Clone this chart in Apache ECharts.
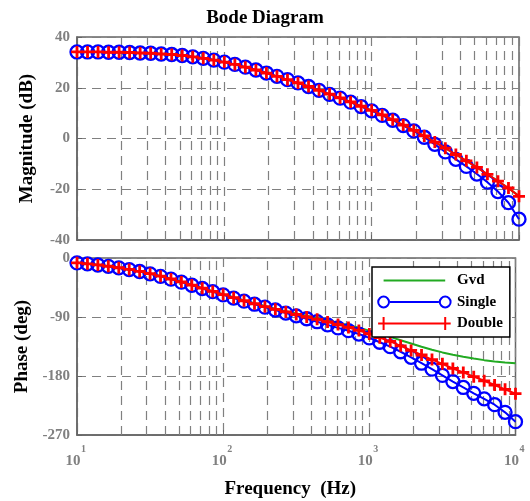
<!DOCTYPE html>
<html>
<head>
<meta charset="utf-8">
<script src="https://cdn.jsdelivr.net/npm/echarts@6/dist/echarts.min.js"></script>
<style>html,body{margin:0;padding:0;background:#fff;}#c{width:530px;height:501px;}</style>
</head>
<body>
<div id="c"></div>
<script>
// Frequencies (Hz) of the plotted points
const freqHz = [10, 11.79, 13.89, 16.38, 19.31, 22.76, 26.83, 31.62, 37.28, 43.94, 51.79, 61.05, 71.97, 84.83,
  100, 117.9, 138.9, 163.8, 193.1, 227.6, 268.3, 316.2, 372.8, 439.4, 517.9, 610.5, 719.7, 848.3,
  1000, 1179, 1389, 1638, 1931, 2276, 2683, 3162, 3728, 4394, 5179, 6105, 7197, 8483, 10000];

// Magnitude (dB)
const gvdMag = [34.1, 34.1, 34.1, 34.0, 34.0, 33.9, 33.7, 33.6, 33.3, 33.1, 32.7, 32.2, 31.6, 30.9,
  30.1, 29.2, 28.1, 27.0, 25.8, 24.5, 23.2, 21.9, 20.5, 19.0, 17.5, 16.0, 14.4, 12.7,
  11.1, 9.3, 7.4, 5.3, 3.2, 1.0, -1.4, -3.8, -6.3, -8.8, -11.4, -14.1, -16.8, -19.6, -22.6];
const singleMag = [34.1, 34.1, 34.1, 34.0, 34.0, 33.9, 33.7, 33.6, 33.3, 33.1, 32.7, 32.2, 31.6, 30.9,
  30.1, 29.2, 28.1, 27.0, 25.8, 24.5, 23.2, 21.9, 20.5, 19.0, 17.4, 15.9, 14.3, 12.6,
  10.9, 9.1, 7.2, 5.1, 3.0, 0.5, -2.3, -5.3, -8.2, -11.0, -14.0, -17.2, -20.9, -25.3, -31.8];
const doubleMag = [34.1, 34.1, 34.1, 34.0, 34.0, 33.9, 33.7, 33.6, 33.3, 33.1, 32.7, 32.2, 31.6, 30.9,
  30.1, 29.2, 28.1, 27.0, 25.8, 24.5, 23.2, 21.9, 20.5, 19.0, 17.5, 16.0, 14.4, 12.7,
  11.1, 9.3, 7.4, 5.3, 3.2, 1.0, -1.4, -3.8, -6.3, -8.8, -11.4, -14.1, -16.8, -19.5, -22.8];

// Phase (deg)
const gvdPhase = [-7.3, -8.8, -10.5, -12.5, -14.8, -17.4, -20.4, -23.8, -27.6, -31.8, -36.3, -41.0, -45.8, -50.6,
  -55.3, -60.0, -64.6, -69.0, -73.3, -77.3, -81.0, -84.7, -88.2, -91.6, -95.0, -98.6, -102.4, -106.5,
  -110.8, -115.5, -120.3, -125.5, -130.5, -135.5, -140.0, -144.0, -147.5, -150.5, -153.4, -155.8, -157.8, -159.4, -160.7];
const singlePhase = [-7.4, -8.9, -10.7, -12.7, -15.0, -17.6, -20.6, -24.1, -28.0, -32.2, -36.8, -41.6, -46.5, -51.4,
  -56.2, -61.1, -65.9, -70.5, -75.0, -79.3, -84.0, -88.2, -92.7, -97.2, -102.0, -106.6, -110.9, -116.0,
  -121.8, -128.5, -135.3, -143.0, -151.5, -160.5, -169.5, -179.0, -188.5, -197.5, -206.4, -214.8, -223.8, -235.4, -249.7];
const doublePhase = [-7.3, -8.9, -10.6, -12.6, -14.9, -17.5, -20.5, -23.9, -27.8, -32.0, -36.5, -41.3, -46.1, -51.0,
  -55.8, -60.5, -65.2, -69.8, -74.2, -78.3, -82.2, -86.2, -90.0, -93.6, -97.5, -101.5, -105.9, -110.5,
  -115.8, -121.5, -127.3, -134.0, -141.0, -148.0, -155.0, -161.5, -168.5, -174.5, -181.0, -187.3, -193.8, -200.4, -207.0];

// Minor (non-decade) vertical grid frequencies
const minorGridHz = [20, 30, 40, 50, 60, 70, 80, 90, 200, 300, 400, 500, 600, 700, 800, 900,
  2000, 3000, 4000, 5000, 6000, 7000, 8000, 9000];

const seriesNames = ['Gvd', 'Single', 'Double'];

const FONT = 'Liberation Serif';
const GRAY = '#808080';
const FRAME = '#666666';
const dash = [9, 6];

function pairs(ys) { return freqHz.map((f, i) => [f, ys[i]]); }

const plusPath = 'path://M4.6 0 L7.4 0 L7.4 4.6 L12 4.6 L12 7.4 L7.4 7.4 L7.4 12 L4.6 12 L4.6 7.4 L0 7.4 L0 4.6 L4.6 4.6 Z';

const iconBounds = 'M0 0 L0.01 0 L0 0.01 Z M75 14 L74.99 14 L75 13.99 Z ';
const iconGvd = 'path://' + iconBounds + 'M6.6 6 L68.2 6 L68.2 8 L6.6 8 Z';
const iconSingle = 'path://' + iconBounds +
  'M0.2 7 A6.4 6.4 0 1 1 13 7 A6.4 6.4 0 1 1 0.2 7 Z M2.2 7 A4.4 4.4 0 1 0 11 7 A4.4 4.4 0 1 0 2.2 7 Z ' +
  'M61.8 7 A6.4 6.4 0 1 1 74.6 7 A6.4 6.4 0 1 1 61.8 7 Z M63.8 7 A4.4 4.4 0 1 0 72.6 7 A4.4 4.4 0 1 0 63.8 7 Z ' +
  'M13 6 L61.8 6 L61.8 8 L13 8 Z';
const iconDouble = 'path://' + iconBounds +
  'M1.1 6 L12.1 6 L12.1 8 L1.1 8 Z M5.6 0.5 L7.6 0.5 L7.6 13.5 L5.6 13.5 Z ' +
  'M62.7 6 L73.7 6 L73.7 8 L62.7 8 Z M67.2 0.5 L69.2 0.5 L69.2 13.5 L67.2 13.5 Z ' +
  'M6.6 6 L68.2 6 L68.2 8 L6.6 8 Z';

function xAxisCfg(gridIndex, showLabels) {
  const ax = {
    type: 'log', logBase: 10, min: 10, max: 10000, gridIndex: gridIndex, position: 'bottom',
    axisLine: { show: true, onZero: false, lineStyle: { color: FRAME, width: 1.5 } },
    axisTick: { show: true, inside: true, length: 5, lineStyle: { color: FRAME } },
    splitLine: { show: true, lineStyle: { color: GRAY, type: dash, width: 1.2 } },
    axisLabel: { show: false }
  };
  if (showLabels) {
    ax.axisLabel = {
      show: true, margin: 9,
      formatter: function (v) { return '{e|' + Math.round(Math.log10(v)) + '}\n{b|10}'; },
      rich: {
        b: { fontFamily: FONT, fontWeight: 'bold', fontSize: 15, color: GRAY, lineHeight: 15, padding: [0, 8, 0, 0] },
        e: { fontFamily: FONT, fontWeight: 'bold', fontSize: 10, color: GRAY, lineHeight: 10, padding: [0, 0, 0, 13] }
      }
    };
    ax.name = 'Frequency  (Hz)';
    ax.nameLocation = 'middle';
    ax.nameGap = 44.5;
    ax.nameTextStyle = { fontFamily: FONT, fontWeight: 'bold', fontSize: 19, color: '#000', padding: [0, 12, 0, 0] };
  }
  return ax;
}

function yAxisCfg(gridIndex, min, max, interval, name) {
  return {
    type: 'value', gridIndex: gridIndex, min: min, max: max, interval: interval,
    name: name, nameLocation: 'middle', nameGap: 40, nameRotate: 90,
    nameTextStyle: { fontFamily: FONT, fontWeight: 'bold', fontSize: 19, color: '#000' },
    axisLine: { show: true, onZero: false, lineStyle: { color: FRAME, width: 1.5 } },
    axisTick: { show: true, inside: true, length: 5, lineStyle: { color: FRAME } },
    splitLine: { show: true, lineStyle: { color: GRAY, type: dash, width: 1.2 } },
    axisLabel: { margin: 7, fontFamily: FONT, fontWeight: 'bold', fontSize: 15, color: GRAY }
  };
}

function minorMarkLine() {
  return {
    silent: true, symbol: ['none', 'none'], z: 1, animation: false,
    label: { show: false },
    lineStyle: { color: GRAY, type: dash, width: 1.2 },
    emphasis: { disabled: true },
    data: minorGridHz.map(f => ({ xAxis: f }))
  };
}

function mkSeries(idx, mag, kind) {
  const base = { type: 'line', xAxisIndex: idx, yAxisIndex: idx, clip: false, showAllSymbol: true,
    animation: false, emphasis: { disabled: true }, data: pairs(mag) };
  if (kind === 0) {
    return Object.assign(base, { name: seriesNames[0], symbol: 'none', z: 2,
      lineStyle: { color: '#22aa22', width: 2 }, itemStyle: { color: '#22aa22' }, markLine: minorMarkLine() });
  } else if (kind === 1) {
    return Object.assign(base, { name: seriesNames[1], symbol: 'circle', symbolSize: 13, z: 3,
      lineStyle: { color: '#0000ff', width: 2 },
      itemStyle: { color: 'rgba(0,0,0,0)', borderColor: '#0000ff', borderWidth: 2.3 } });
  } else {
    return Object.assign(base, { name: seriesNames[2], symbol: plusPath, symbolSize: 12, z: 4,
      lineStyle: { color: '#ff0000', width: 2 }, itemStyle: { color: '#ff0000' } });
  }
}

const chart = echarts.init(document.getElementById('c'), null, { renderer: 'canvas' });
chart.setOption({
  backgroundColor: '#fff',
  animation: false,
  title: {
    text: 'Bode Diagram', left: 'center', top: 7.5, padding: [0, 0, 0, 53],
    textStyle: { fontFamily: FONT, fontWeight: 'bold', fontSize: 19, color: '#000', lineHeight: 22 }
  },
  legend: {
    orient: 'vertical', left: 372, top: 267, padding: [6, 7, 6, 5], itemGap: 6.5,
    itemWidth: 75, itemHeight: 14, selectedMode: false,
    backgroundColor: '#fff', borderColor: '#000', borderWidth: 1.5, z: 10,
    textStyle: { fontFamily: FONT, fontWeight: 'bold', fontSize: 15, color: '#000' },
    data: [
      { name: seriesNames[0], icon: iconGvd, itemStyle: { color: '#22aa22', borderWidth: 0 } },
      { name: seriesNames[1], icon: iconSingle, itemStyle: { color: '#0000ff', borderWidth: 0 } },
      { name: seriesNames[2], icon: iconDouble, itemStyle: { color: '#ff0000', borderWidth: 0 } }
    ]
  },
  grid: [
    { left: 77, right: 11, top: 37, height: 203, show: true, borderColor: FRAME, borderWidth: 1.5, backgroundColor: 'transparent' },
    { left: 77, right: 11, top: 258, height: 177, show: true, borderColor: FRAME, borderWidth: 1.5, backgroundColor: 'transparent' }
  ],
  xAxis: [xAxisCfg(0, false), xAxisCfg(1, true)],
  yAxis: [yAxisCfg(0, -40, 40, 20, 'Magnitude (dB)'), yAxisCfg(1, -270, 0, 90, 'Phase (deg)')],
  series: [
    mkSeries(0, gvdMag, 0), mkSeries(0, singleMag, 1), mkSeries(0, doubleMag, 2),
    mkSeries(1, gvdPhase, 0), mkSeries(1, singlePhase, 1), mkSeries(1, doublePhase, 2)
  ]
});
</script>
</body>
</html>
